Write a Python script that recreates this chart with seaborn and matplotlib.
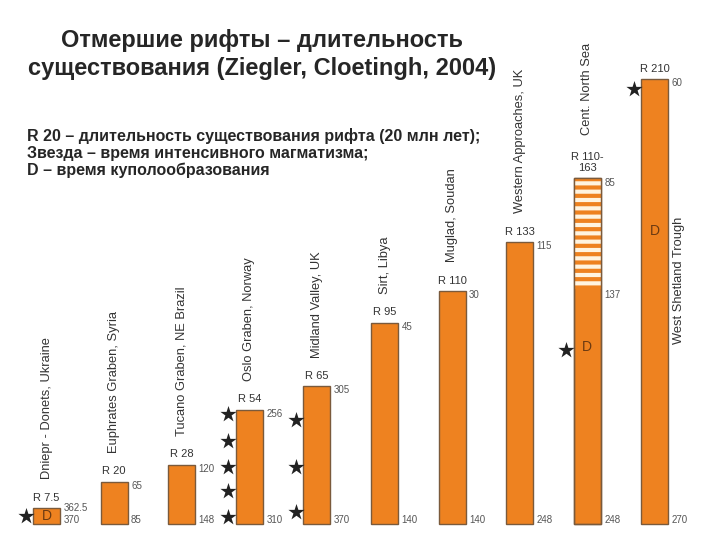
import pandas as pd
import seaborn as sns
import matplotlib.pyplot as plt

# rifts, left to right
rifts = ['Dniepr - Donets, Ukraine', 'Euphrates Graben, Syria', 'Tucano Graben, NE Brazil',
         'Oslo Graben, Norway', 'Midland Valley, UK', 'Sirt, Libya', 'Muglad, Soudan',
         'Western Approaches, UK', 'Cent. North Sea', 'West Shetland Trough']
r_labels = ['R 7.5', 'R 20', 'R 28', 'R 54', 'R 65', 'R 95', 'R 110', 'R 133', 'R 110-\n163', 'R 210']
durations = [7.5, 20, 28, 54, 65, 95, 110, 133, 163, 210]
start_age = ['370', '85', '148', '310', '370', '140', '140', '248', '248', '270']
end_age = ['362.5', '65', '120', '256', '305', '45', '30', '115', '85', '60']

# Cent. North Sea: firm part up to 137 Ma, uncertain (striped) part up to 85 Ma
uncertain_rift = 8
uncertain_from = 111
uncertain_label = '137'

# stars = intense magmatism (time since rift start, Myr)
star_rift = [0, 3, 3, 3, 3, 3, 4, 4, 4, 8, 9]
star_time = [4, 52, 39, 27, 15.5, 3.5, 49, 27, 5.5, 82, 205]

# D = doming
dome_rift = [0, 8, 9]
dome_time = [3.75, 83.5, 138]

title_lines = ['Отмершие рифты – длительность',
               'существования (Ziegler, Cloetingh, 2004)']
legend_lines = ['R 20 – длительность существования рифта (20 млн лет);',
                'Звезда – время интенсивного магматизма;',
                'D – время куполообразования']

orange = '#EE8220'
edge = '#7A5A3C'

sns.set_style('white')
plt.rcParams['font.family'] = ['Liberation Sans', 'DejaVu Sans']
plt.rcParams['hatch.linewidth'] = 3.0

fig = plt.figure(figsize=(7.2, 5.4), dpi=100)
ax = fig.add_axes([0, 0, 1, 1])

df = pd.DataFrame({'pos': range(len(rifts)), 'dur': durations})
sns.barplot(data=df, x='pos', y='dur', native_scale=True, width=0.4, color=orange,
            saturation=1, edgecolor=edge, linewidth=1, ax=ax)

# striped (uncertain) segment
top = durations[uncertain_rift]
ax.bar(uncertain_rift, top - uncertain_from, bottom=uncertain_from, width=0.4,
       facecolor='#FFF4E0', edgecolor=orange, hatch='--', linewidth=0, zorder=3)
ax.bar(uncertain_rift, top, width=0.4, fill=False, edgecolor=edge, linewidth=1, zorder=4)
ax.text(uncertain_rift + 0.25, uncertain_from - 3, uncertain_label, fontsize=7,
        color='#555555', ha='left', va='center')

# stars and D marks
sns.scatterplot(x=[r - 0.31 for r in star_rift], y=star_time, marker='*', s=150,
                color='#222222', linewidth=0, ax=ax, zorder=5)
for r, t in zip(dome_rift, dome_time):
    ax.text(r, t, 'D', fontsize=10, color='#6B3A12', ha='center', va='center', zorder=6)

# labels around the bars
for i, name in enumerate(rifts):
    d = durations[i]
    ax.text(i, d + 2.5, r_labels[i], fontsize=8, color='#333333', ha='center', va='bottom',
            linespacing=1.1)
    if i == 9:
        ax.text(i + 0.35, 85, name, rotation=90, fontsize=9.3, color='#333333',
                ha='center', va='bottom')
    elif i == 8:
        ax.text(i, d + 20.5, name, rotation=90, fontsize=9.3, color='#333333',
                ha='center', va='bottom')
    else:
        ax.text(i, d + 13.5, name, rotation=90, fontsize=9.3, color='#333333',
                ha='center', va='bottom')
    ax.text(i + 0.25, max(d - 2, 7.6), end_age[i], fontsize=7, color='#555555',
            ha='left', va='center')
    ax.text(i + 0.25, 1.8, start_age[i], fontsize=7, color='#555555', ha='left', va='center')

ax.set_xlim(-0.688, 9.963)
ax.set_ylim(-7.55, 247.2)
ax.axis('off')

# title and legend, line by line (baselines in pixels from the top)
for line, base in zip(title_lines, [47, 75]):
    fig.text(0.364, 1 - base / 540, line, fontsize=17, fontweight='bold',
             ha='center', va='baseline')
for line, base in zip(legend_lines, [140.5, 158, 175]):
    fig.text(27 / 720, 1 - base / 540, line, fontsize=11.5, fontweight='bold',
             ha='left', va='baseline')

fig.savefig('out.png', dpi=100)
